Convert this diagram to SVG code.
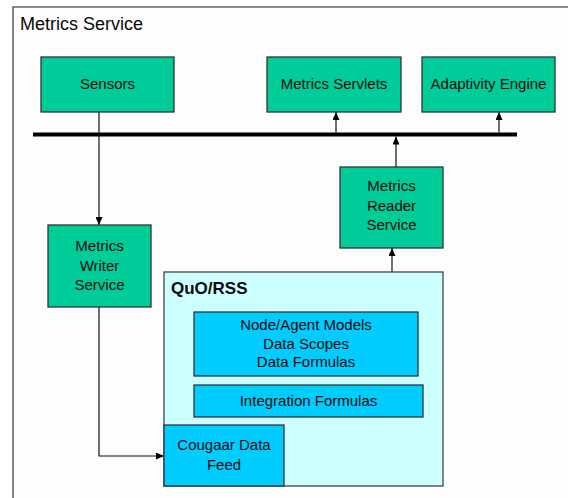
<svg xmlns="http://www.w3.org/2000/svg" width="568" height="498" viewBox="0 0 568 498">
  <defs>
    <marker id="arrow" markerUnits="userSpaceOnUse" markerWidth="8" markerHeight="7" refX="8" refY="3.5" orient="auto">
      <path d="M0,0 L8,3.5 L0,7 z" fill="#000"/>
    </marker>
    <style>
      text { font-family: "Liberation Sans", Arial, sans-serif; fill: #0a0a0a; }
      .lbl { font-size: 15px; text-anchor: middle; }
      .green { fill: #00CC99; stroke: #333; stroke-width: 1.3; }
      .cyan { fill: #00CCFF; stroke: #333; stroke-width: 1.3; }
      .pale { fill: #CCFFFF; stroke: #444; stroke-width: 1.3; }
      .wire { fill: none; stroke: #111; stroke-width: 1.2; }
    </style>
  </defs>

  <rect width="568" height="498" fill="#fff"/>

  <!-- service frame -->
  <g id="frame">
    <rect x="13" y="7" width="560" height="500" fill="#fdfdfd"/>
    <path d="M13,498 V7 H568" fill="none" stroke="#666" stroke-width="1.6"/>
    <text x="20" y="30" font-size="18">Metrics Service</text>
  </g>

  <!-- connectors -->
  <g id="connectors">
    <line x1="33" y1="134.5" x2="517" y2="134.5" stroke="#000" stroke-width="4"/>
    <line class="wire" x1="99" y1="112" x2="99" y2="225" marker-end="url(#arrow)"/>
    <path class="wire" d="M99,307 V456 H164" marker-end="url(#arrow)"/>
    <line class="wire" x1="396" y1="167" x2="396" y2="136.5" marker-end="url(#arrow)"/>
    <line class="wire" x1="392" y1="272" x2="392" y2="248" marker-end="url(#arrow)"/>
    <line class="wire" x1="336" y1="132.5" x2="336" y2="112" marker-end="url(#arrow)"/>
    <line class="wire" x1="499" y1="132.5" x2="499" y2="112" marker-end="url(#arrow)"/>
  </g>

  <g id="sensors">
    <rect class="green" x="41" y="57" width="133" height="55"/>
    <text class="lbl" x="107.5" y="89">Sensors</text>
  </g>

  <g id="metrics-servlets">
    <rect class="green" x="267" y="57" width="134" height="55"/>
    <text class="lbl" x="334" y="89">Metrics Servlets</text>
  </g>

  <g id="adaptivity-engine">
    <rect class="green" x="422" y="57" width="133" height="55"/>
    <text class="lbl" x="488.5" y="89">Adaptivity Engine</text>
  </g>

  <g id="metrics-reader-service">
    <rect class="green" x="340" y="167" width="103" height="81"/>
    <text class="lbl" x="391.5" y="191">Metrics</text>
    <text class="lbl" x="391.5" y="211">Reader</text>
    <text class="lbl" x="391.5" y="230">Service</text>
  </g>

  <g id="metrics-writer-service">
    <rect class="green" x="48" y="225" width="103" height="82"/>
    <text class="lbl" x="99.5" y="251">Metrics</text>
    <text class="lbl" x="99.5" y="271">Writer</text>
    <text class="lbl" x="99.5" y="290">Service</text>
  </g>

  <g id="quo-rss">
    <rect class="pale" x="164" y="272" width="279" height="214"/>
    <text x="171" y="294" font-size="17" font-weight="bold">QuO/RSS</text>
  </g>

  <g id="models">
    <rect class="cyan" x="194" y="312" width="224" height="64"/>
    <text class="lbl" x="306" y="330">Node/Agent Models</text>
    <text class="lbl" x="306" y="349">Data Scopes</text>
    <text class="lbl" x="306" y="367">Data Formulas</text>
  </g>

  <g id="integration-formulas">
    <rect class="cyan" x="194" y="385" width="229" height="32"/>
    <text class="lbl" x="308.5" y="406">Integration Formulas</text>
  </g>

  <g id="cougaar-data-feed">
    <rect class="cyan" x="164" y="425" width="120" height="61"/>
    <text class="lbl" x="224" y="450">Cougaar Data</text>
    <text class="lbl" x="224" y="470">Feed</text>
  </g>
</svg>
